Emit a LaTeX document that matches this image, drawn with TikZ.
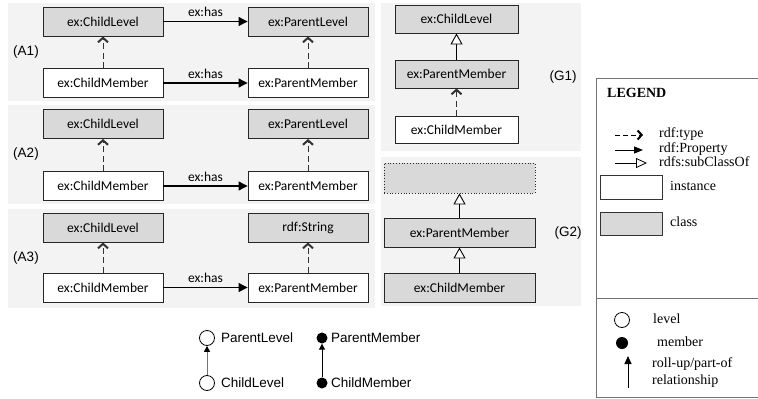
\documentclass[tikz,border=0pt]{standalone}
\usepackage{fontspec}
\setmainfont{Liberation Serif}
\newfontfamily\calib{Carlito}
\newfontfamily\arialf{Liberation Sans}
\usetikzlibrary{arrows.meta}
\definecolor{panelbg}{HTML}{F3F3F3}
\definecolor{clsfill}{HTML}{D9D9D9}
\definecolor{edgec}{HTML}{262626}
\begin{document}
\begin{tikzpicture}[x=1pt,y=-1pt,
  panel/.style={fill=panelbg,draw=none},
  inst/.style={draw=edgec,line width=0.9pt,fill=white,font=\calib\fontsize{13.5}{15}\selectfont,inner sep=0pt,minimum height=29pt},
  cls/.style={inst,fill=clsfill},
  lbl/.style={font=\arialf\fontsize{13.5}{16}\selectfont,inner sep=0pt},
  haslbl/.style={font=\calib\fontsize{13.5}{15}\selectfont,inner sep=0pt},
  typearr/.style={draw=black!80,line width=0.8pt,dash pattern=on 6pt off 3.5pt,-{Straight Barb[length=4.5pt,width=10pt,line width=2pt]}},
  proparr/.style={draw=black,line width=1.1pt,-{Triangle[length=9pt,width=9pt]}},
  subarr/.style={draw=black,line width=1.1pt,-{Triangle[open,fill=white,length=11pt,width=12pt,line width=0.9pt]}},
  legtxt/.style={font=\fontsize{14}{16}\selectfont,inner sep=0pt,anchor=west},
]
\useasboundingbox (0,0) rectangle (758,399);
\fill[white] (0,0) rectangle (758,399);
% panels
\fill[panel] (8,3) rectangle (375,101);
\fill[panel] (8,105) rectangle (375,204);
\fill[panel] (8,209) rectangle (375,308);
\fill[panel] (381,3) rectangle (581,151);
\fill[panel] (381,157) rectangle (581,306);

% A1
\node[cls,minimum width=120pt] (a1cl) at (103,21.5) {ex:ChildLevel};
\node[cls,minimum width=120pt] (a1pl) at (308,21.5) {ex:ParentLevel};
\node[inst,minimum width=120pt] (a1cm) at (103,83) {ex:ChildMember};
\node[inst,minimum width=120pt] (a1pm) at (308,83) {ex:ParentMember};
\node[lbl] (a1) at (26,52) {(A1)};
\draw[proparr] (a1cl) -- node[haslbl,above=4pt] (h1) {ex:has} (a1pl);
\draw[proparr] (a1cm) -- node[haslbl,above=4pt] (h2) {ex:has} (a1pm);
\draw[typearr] (a1cm) -- (a1cl);
\draw[typearr] (a1pm) -- (a1pl);

% A2
\node[cls,minimum width=120pt] (a2cl) at (103,124) {ex:ChildLevel};
\node[cls,minimum width=120pt] (a2pl) at (308,124) {ex:ParentLevel};
\node[inst,minimum width=120pt] (a2cm) at (103,186) {ex:ChildMember};
\node[inst,minimum width=120pt] (a2pm) at (308,186) {ex:ParentMember};
\node[lbl] (a2) at (26,154) {(A2)};
\draw[proparr] (a2cm) -- node[haslbl,above=4pt] (h3) {ex:has} (a2pm);
\draw[typearr] (a2cm) -- (a2cl);
\draw[typearr] (a2pm) -- (a2pl);

% A3
\node[cls,minimum width=120pt] (a3cl) at (103,227.5) {ex:ChildLevel};
\node[cls,minimum width=120pt] (a3pl) at (308,227.5) {rdf:String};
\node[inst,minimum width=120pt] (a3cm) at (103,287.5) {ex:ChildMember};
\node[inst,minimum width=120pt] (a3pm) at (308,287.5) {ex:ParentMember};
\node[lbl] (a3) at (26,258) {(A3)};
\draw[proparr] (a3cm) -- node[haslbl,above=4pt] (h4) {ex:has} (a3pm);
\draw[typearr] (a3cm) -- (a3cl);
\draw[typearr] (a3pm) -- (a3pl);

% G1
\node[cls,minimum width=123pt,minimum height=28pt] (g1cl) at (456.5,19) {ex:ChildLevel};
\node[cls,minimum width=123pt,minimum height=28pt] (g1pm) at (456.5,74) {ex:ParentMember};
\node[inst,minimum width=123pt,minimum height=27pt] (g1cm) at (456.5,130) {ex:ChildMember};
\node[lbl] (g1) at (563,77) {(G1)};
\draw[subarr] (g1pm) -- (g1cl);
\draw[typearr] (g1cm) -- (g1pm);

% G2
\node[fill=clsfill,draw=edgec,line width=0.8pt,dotted,minimum width=151pt,minimum height=30pt,inner sep=0pt] (g2top) at (459.5,178) {};
\node[cls,minimum width=151pt] (g2pm) at (459.5,232.5) {ex:ParentMember};
\node[cls,minimum width=151pt] (g2cm) at (459.5,287.5) {ex:ChildMember};
\node[lbl] (g2) at (568,233) {(G2)};
\draw[subarr] (g2pm) -- (g2top);
\draw[subarr] (g2cm) -- (g2pm);

% bottom example
\node[circle,draw=black,line width=0.8pt,minimum size=15pt,inner sep=0pt] (pl) at (207,338) {};
\node[circle,draw=black,line width=0.8pt,minimum size=15pt,inner sep=0pt] (cl) at (207,383) {};
\node[lbl,anchor=west] (plt) at (221,338) {ParentLevel};
\node[lbl,anchor=west] (clt) at (221,383) {ChildLevel};
\draw[draw=black!55,line width=1pt,-{Triangle[length=6pt,width=6pt,color=black]}] (cl) -- (pl);
\node[circle,fill=black,minimum size=11pt,inner sep=0pt] (pm) at (322,338) {};
\node[circle,fill=black,minimum size=11pt,inner sep=0pt] (cm) at (322,383) {};
\node[lbl,anchor=west] (pmt) at (331,338) {ParentMember};
\node[lbl,anchor=west] (cmt) at (331,383) {ChildMember};
\draw[draw=black,line width=1pt,-{Triangle[length=6pt,width=6pt]}] (cm) -- (pm);

% legend
\draw[draw=black!55,line width=0.8pt] (596,78) rectangle (780,397);
\draw[draw=black!55,line width=0.8pt] (596,298) -- (780,298);
\node[font=\bfseries\fontsize{14}{16}\selectfont,inner sep=0pt,anchor=west] (leg) at (607,93) {LEGEND};
\coordinate (t1) at (615,135); \coordinate (t2) at (643,135);
\draw[draw=black,line width=0.9pt,dash pattern=on 5pt off 3pt,-{Straight Barb[length=4pt,width=9pt,line width=2pt]}] (t1) -- (t2);
\node[legtxt] (lt1) at (659,134) {rdf:type};
\coordinate (p1) at (615,150); \coordinate (p2) at (643,150);
\draw[draw=black,line width=1pt,-{Triangle[length=9pt,width=7pt]}] (p1) -- (p2);
\node[legtxt] (lt2) at (659,149) {rdf:Property};
\coordinate (s1) at (615,163); \coordinate (s2) at (647,163);
\draw[draw=black,line width=0.9pt,-{Triangle[open,fill=white,length=11pt,width=10pt,line width=0.8pt]}] (s1) -- (s2);
\node[legtxt] (lt3) at (659,162) {rdfs:subClassOf};
\node[draw=black!80,line width=0.8pt,fill=white,minimum width=62pt,minimum height=24pt,inner sep=0pt] (li) at (631,187) {};
\node[legtxt] (lt4) at (670,186) {instance};
\node[draw=black!80,line width=0.8pt,fill=clsfill,minimum width=62pt,minimum height=23pt,inner sep=0pt] (lc) at (631,224) {};
\node[legtxt] (lt5) at (670,222) {class};
\node[circle,draw=black,line width=0.8pt,minimum size=15pt,inner sep=0pt] (lvl) at (622,320) {};
\node[legtxt] (lt6) at (653,319) {level};
\node[circle,fill=black,minimum size=12pt,inner sep=0pt] (mem) at (622,343) {};
\node[legtxt] (lt7) at (657,342) {member};
\coordinate (r1) at (628,388); \coordinate (r2) at (628,356);
\draw[draw=black,line width=1pt,-{Triangle[length=8pt,width=7pt]}] (r1) -- (r2);
\node[legtxt] (lt8) at (652,364) {roll-up/part-of};
\node[legtxt] (lt9) at (652,381) {relationship};
\end{tikzpicture}
\end{document}
